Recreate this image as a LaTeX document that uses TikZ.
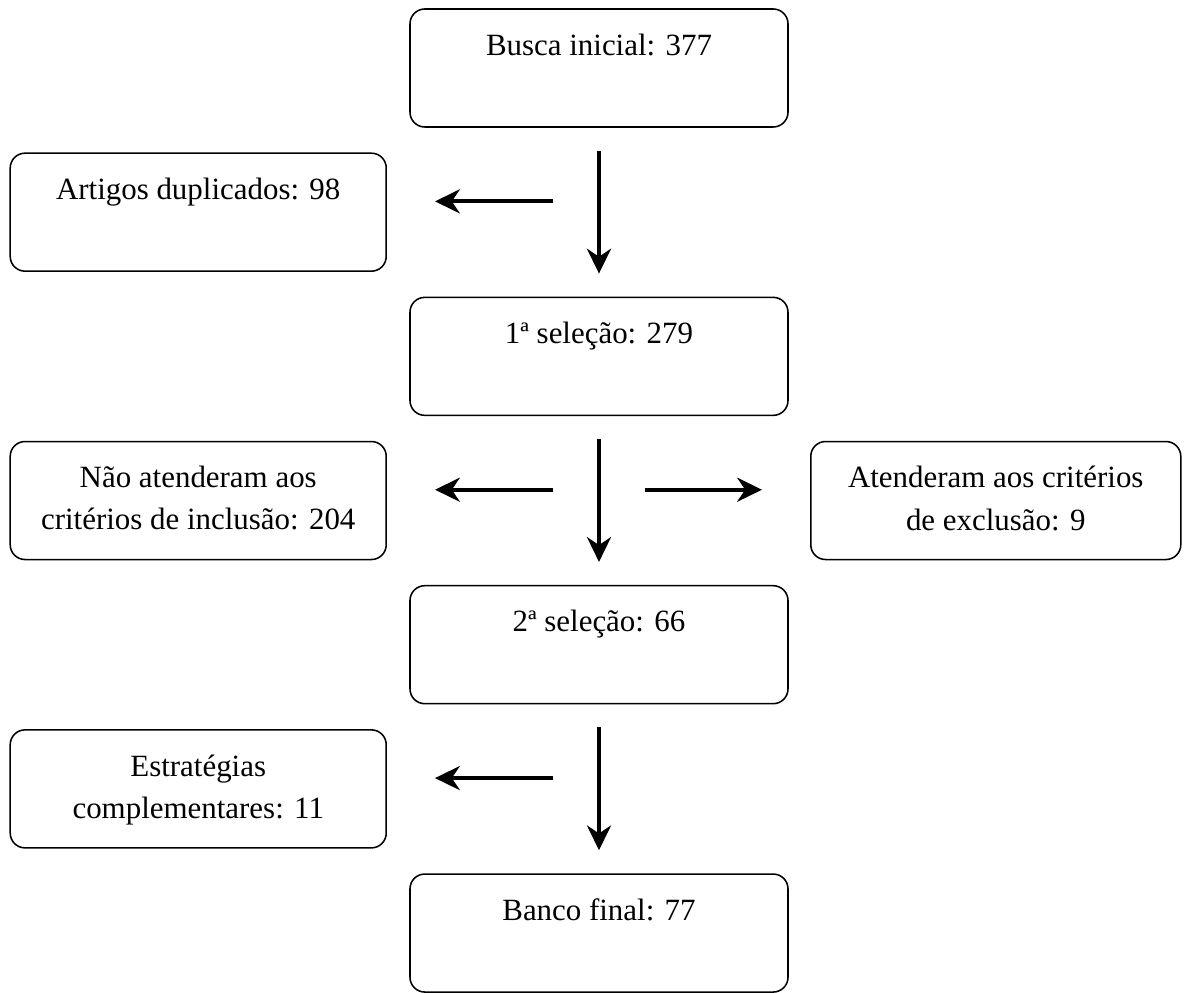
\documentclass[tikz,border=0pt]{standalone}
\usepackage{fontspec}
\setmainfont{Liberation Serif}
\usetikzlibrary{positioning,calc,arrows.meta}

% texto no alto da caixa
\newcommand{\caixatxt}[2][9.45cm]{\parbox[c][2.95cm][t]{#1}{\centering\vspace{0.62cm}#2}}

\begin{document}
\begin{tikzpicture}[node distance=4.22cm,
    caixa/.style={draw,rounded corners=0.37cm,line width=1.1pt,inner sep=0pt,font=\fontsize{22}{30}\selectfont},
    seta/.style={-{Stealth[length=0.62cm,width=0.6cm,inset=0.2cm]},line width=0.1cm,shorten <=0.575cm,shorten >=0.575cm},
    ramo/.style={seta,shorten <=1.15cm,shorten >=1.2cm}]
  \useasboundingbox (-14.975,1.7) rectangle (14.625,-23.1);

  % coluna principal
  \node[caixa] (busca) at (0,0) {\caixatxt{Busca inicial: 377}};
  \node[caixa] (sel1) [below=of busca] {\caixatxt{1ª seleção: 279}};
  \node[caixa] (sel2) [below=of sel1] {\caixatxt{2ª seleção: 66}};
  \node[caixa] (banco) [below=of sel2] {\caixatxt{Banco final: 77}};

  \coordinate (m1) at ($(busca.south)!0.5!(sel1.north)$);
  \coordinate (m2) at ($(sel1.south)!0.5!(sel2.north)$);
  \coordinate (m3) at ($(sel2.south)!0.5!(banco.north)$);

  % caixas laterais
  \node[caixa] (dup) [left=5.3cm of m1] {\caixatxt[9.4cm]{Artigos duplicados: 98}};
  \node[caixa] (naoinc) [left=5.3cm of m2] {\caixatxt[9.4cm]{Não atenderam aos\\critérios de inclusão: 204}};
  \node[caixa] (exc) [right=5.275cm of m2] {\caixatxt[9.25cm]{Atenderam aos critérios\\de exclusão: 9}};
  \node[caixa] (estr) [left=5.3cm of m3] {\caixatxt[9.4cm]{Estratégias\\complementares: 11}};

  \draw[seta] (busca) -- (sel1);
  \draw[seta] (sel1) -- (sel2);
  \draw[seta] (sel2) -- (banco);

  \draw[ramo] ([yshift=0.27cm]m1) -- ([yshift=0.27cm]m1 -| dup.east);
  \draw[ramo] ([yshift=0.27cm]m2) -- ([yshift=0.27cm]m2 -| naoinc.east);
  \draw[ramo] ([yshift=0.27cm]m2) -- ([yshift=0.27cm]m2 -| exc.west);
  \draw[ramo] ([yshift=0.27cm]m3) -- ([yshift=0.27cm]m3 -| estr.east);
\end{tikzpicture}
\end{document}
